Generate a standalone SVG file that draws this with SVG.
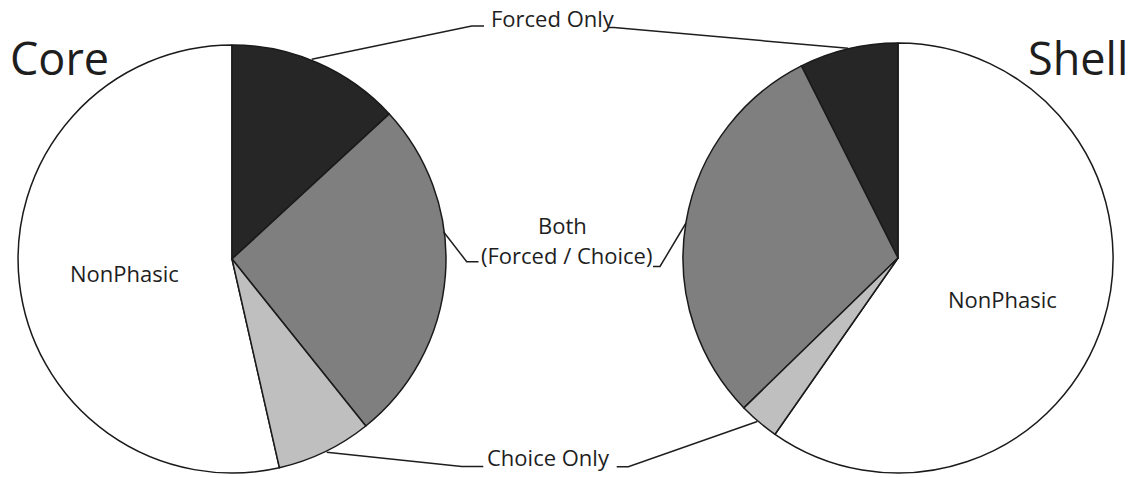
<svg xmlns="http://www.w3.org/2000/svg" width="1138" height="477" viewBox="0 0 1138 477">
<style>
.sl{stroke:#1a1a1a;stroke-width:1.5;stroke-linejoin:round}
.f{fill:#262626}.b{fill:#7f7f7f}.c{fill:#bfbfbf}.n{fill:#ffffff}
.t{font-family:"Open Sans","Noto Sans",sans-serif;fill:#1e1e1e}
.lbl{font-size:22px}
.big{font-size:45px}
.ld{fill:none;stroke:#1e1e1e;stroke-width:1.5}
</style>
<rect width="1138" height="477" fill="#ffffff"/>
<g id="core-pie">
<path class="sl n" d="M232,259 L279.4,467.7 A214,214 0 1 1 232,45 Z"/>
<path class="sl f" d="M232,259 L232,45 A214,214 0 0 1 389.3,113.9 Z"/>
<path class="sl b" d="M232,259 L389.3,113.9 A214,214 0 0 1 365.8,426 Z"/>
<path class="sl c" d="M232,259 L365.8,426 A214,214 0 0 1 279.4,467.7 Z"/>
<text class="t lbl" x="70" y="282">NonPhasic</text>
</g>
<g id="shell-pie">
<path class="sl n" d="M898,258 L775,434.3 A215,215 0 1 0 898,43 Z"/>
<path class="sl f" d="M898,258 L898,43 A215,215 0 0 0 801.4,65.9 Z"/>
<path class="sl b" d="M898,258 L801.4,65.9 A215,215 0 0 0 743.9,407.9 Z"/>
<path class="sl c" d="M898,258 L743.9,407.9 A215,215 0 0 0 775,434.3 Z"/>
<text class="t lbl" x="948" y="308">NonPhasic</text>
</g>
<g id="title-core"><text class="t big" x="10" y="75">Core</text></g>
<g id="title-shell"><text class="t big" x="1028" y="75">Shell</text></g>
<g id="label-forced"><text class="t lbl" x="491" y="27">Forced Only</text></g>
<g id="label-both"><text class="t lbl" x="538" y="234">Both</text><text class="t lbl" x="481" y="264">(Forced / Choice)</text></g>
<g id="label-choice"><text class="t lbl" x="487" y="466">Choice Only</text></g>
<g id="connectors">
<path class="ld" d="M311.7,59.3 L471.7,26 L484,26"/>
<path class="ld" d="M608,27.5 L614,27.5 L848,48.3"/>
<path class="ld" d="M443.5,231.7 L466.7,261.7 L478.5,261.7"/>
<path class="ld" d="M653,266.5 L660,266.5 L686,223"/>
<path class="ld" d="M326.7,452.3 L461.7,466.5 L483.3,466.5"/>
<path class="ld" d="M616.7,466.7 L628.3,466.7 L757.3,421.5"/>
</g>
</svg>
